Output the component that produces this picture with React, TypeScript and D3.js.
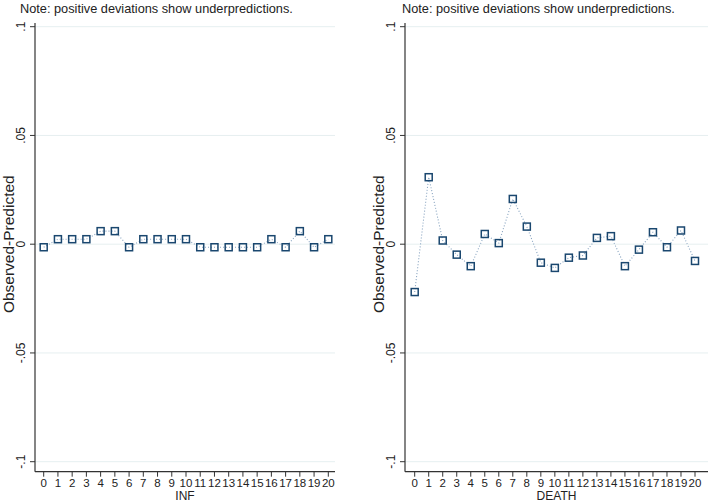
import React from "react";
import * as d3 from "d3";

const lags = d3.range(0, 21);
const infDev = [-0.0014, 0.0023, 0.0023, 0.0023, 0.006, 0.006, -0.0014, 0.0023, 0.0023, 0.0023, 0.0023, -0.0014, -0.0014, -0.0014, -0.0014, -0.0014, 0.0023, -0.0014, 0.006, -0.0014, 0.0023];
const deathDev = [-0.022, 0.0308, 0.0017, -0.0048, -0.0101, 0.0047, 0.0005, 0.0208, 0.0081, -0.0085, -0.0109, -0.0062, -0.0052, 0.0029, 0.0037, -0.0101, -0.0025, 0.0055, -0.0014, 0.0063, -0.0077];
const yTicks = [0.1, 0.05, 0, -0.05, -0.1];
const yTickLabels = [".1", ".05", "0", "-.05", "-.1"];
const noteText = "Note: positive deviations show underpredictions.";
const yTitle = "Observed-Predicted";

const FONT = "'Liberation Sans', Arial, sans-serif";

type PanelProps = {
  values: number[];
  xTitle: string;
  axisX: number;
  x0: number;
  x20: number;
  plotRight: number;
  noteX: number;
};

function Panel({ values, xTitle, axisX, x0, x20, plotRight, noteX }: PanelProps) {
  const x = d3.scaleLinear().domain([0, 20]).range([x0, x20]);
  const y = d3.scaleLinear().domain([-0.1, 0.1]).range([461.7, 26.7]);
  const axisY = 471.7;
  const top = 23;
  const line = d3
    .line<number>()
    .x((_, i) => x(lags[i]))
    .y((v) => y(v));
  const ms = 7;
  const cx = (axisX + plotRight) / 2;
  return (
    <g>
      <text x={noteX} y={13} fontSize={12.75} fill="#222" fontFamily={FONT}>
        {noteText}
      </text>
      {yTicks.map((t) => (
        <line key={"g" + t} x1={axisX} x2={plotRight} y1={y(t)} y2={y(t)} stroke="#e6eff0" strokeWidth={1} />
      ))}
      <path d={line(values) || ""} fill="none" stroke="#86a2bf" strokeWidth={1.1} strokeDasharray="1,2" />
      {values.map((v, i) => (
        <rect
          key={i}
          x={x(lags[i]) - ms / 2}
          y={y(v) - ms / 2}
          width={ms}
          height={ms}
          fill="none"
          stroke="#1a476f"
          strokeWidth={1.5}
        />
      ))}
      <line x1={axisX} x2={axisX} y1={top} y2={axisY} stroke="#333" strokeWidth={1.2} />
      <line x1={axisX} x2={plotRight} y1={axisY} y2={axisY} stroke="#333" strokeWidth={1.2} />
      {yTicks.map((t, i) => (
        <g key={"t" + t}>
          <line x1={axisX - 5} x2={axisX} y1={y(t)} y2={y(t)} stroke="#333" strokeWidth={1} />
          <text
            transform={`translate(${axisX - 10},${y(t)}) rotate(-90)`}
            textAnchor="middle"
            fontSize={12}
            fill="#222"
            fontFamily={FONT}
          >
            {yTickLabels[i]}
          </text>
        </g>
      ))}
      {lags.map((l) => (
        <g key={"x" + l}>
          <line x1={x(l)} x2={x(l)} y1={axisY} y2={axisY + 5} stroke="#333" strokeWidth={1} />
          <text x={x(l)} y={axisY + 15.5} textAnchor="middle" fontSize={11.5} fill="#222" fontFamily={FONT}>
            {l}
          </text>
        </g>
      ))}
      <text x={cx} y={axisY + 28.5} textAnchor="middle" fontSize={12} fill="#222" fontFamily={FONT}>
        {xTitle}
      </text>
      <text
        transform={`translate(${axisX - 21.5},${y(0)}) rotate(-90)`}
        textAnchor="middle"
        fontSize={15.5}
        fill="#222"
        fontFamily={FONT}
      >
        {yTitle}
      </text>
    </g>
  );
}

export default function App() {
  return (
    <svg width={708} height={503} style={{ position: "absolute", left: 0, top: 0, background: "#fff" }}>
      <rect width={708} height={503} fill="#fff" />
      <Panel values={infDev} xTitle="INF" axisX={35} x0={43.7} x20={328.3} plotRight={335} noteX={20} />
      <Panel values={deathDev} xTitle="DEATH" axisX={405} x0={414.7} x20={695} plotRight={708} noteX={402} />
    </svg>
  );
}
